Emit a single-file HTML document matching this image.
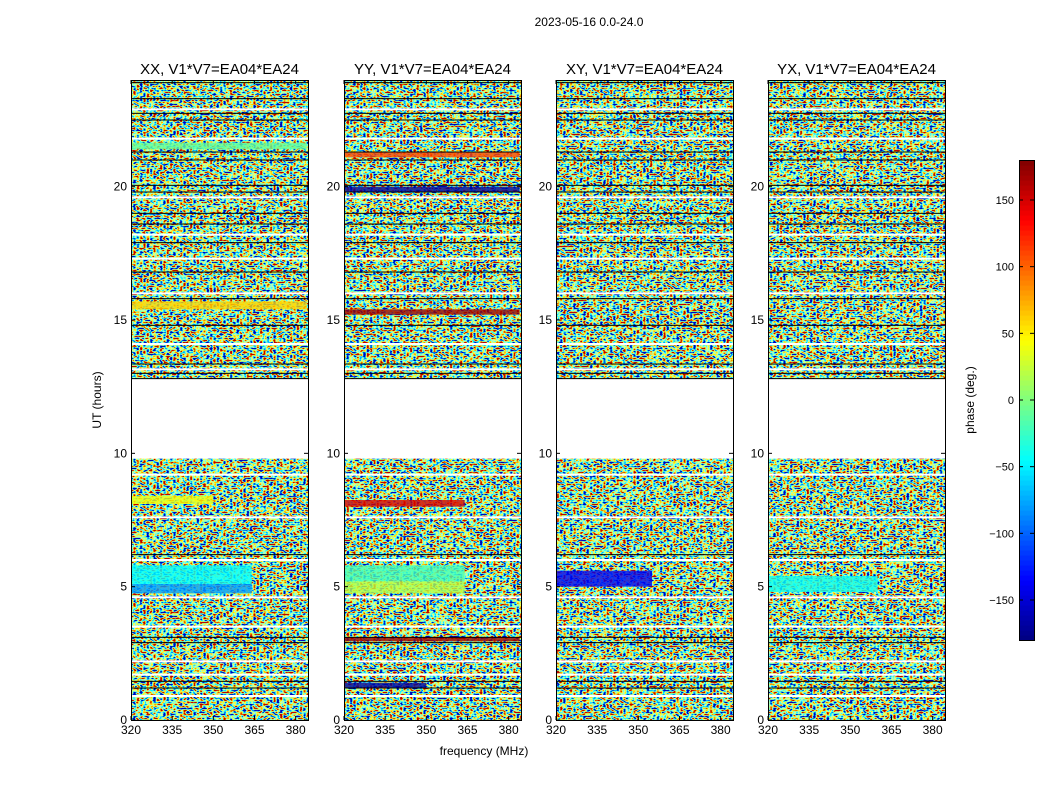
<!DOCTYPE html>
<html><head><meta charset="utf-8"><style>
body{margin:0;background:#fff;font-family:"Liberation Sans",sans-serif}
svg text{font-family:"Liberation Sans",sans-serif}
</style></head><body>
<svg id="c" width="1050" height="800" xmlns="http://www.w3.org/2000/svg">
<defs>
<filter id="noise" x="0" y="0" width="100%" height="100%" filterUnits="objectBoundingBox">
<feTurbulence type="fractalNoise" baseFrequency="0.3 0.5" numOctaves="1" seed="3"/>
<feColorMatrix type="matrix" values="3 0 0 0 -1  3 0 0 0 -1  3 0 0 0 -1  0 0 0 0 1"/>
<feComponentTransfer>
<feFuncR type="table" tableValues="0 0 0 0.5 1 1 0.5"/>
<feFuncG type="table" tableValues="0 0.3 1 1 1 0.3 0"/>
<feFuncB type="table" tableValues="0.5 1 1 0.5 0 0 0"/>
<feFuncA type="linear" slope="0" intercept="1"/>
</feComponentTransfer>
</filter>
</defs>
<text x="589" y="26" font-size="12" text-anchor="middle">2023-05-16 0.0-24.0</text>
<g id="panels"></g>
<text x="484" y="755" font-size="12" text-anchor="middle">frequency (MHz)</text>
<text transform="translate(101,400) rotate(-90)" font-size="12" text-anchor="middle">UT (hours)</text>
<g id="cbar"></g>
<text transform="translate(974,400) rotate(-90)" font-size="12" text-anchor="middle">phase (deg.)</text>
</svg>
<script>
const panelTitles=["XX, V1*V7=EA04*EA24","YY, V1*V7=EA04*EA24","XY, V1*V7=EA04*EA24","YX, V1*V7=EA04*EA24"];
const xTicks=[320,335,350,365,380];
const yTicks=[0,5,10,15,20];
const cbTicks=[-150,-100,-50,0,50,100,150];
const gap=[9.8,12.8];
const blackLines=[1.2,1.45,2.9,3.1,6.2,13.0,13.35,14.8,15.8,16.8,17.9,18.6,19.0,19.8,20.05,21.0,21.3,22.5,22.75,23.3,23.9];
const whiteLines=[0.9,1.7,2.2,3.5,4.6,6.0,7.6,9.2,13.15,14.1,16.0,17.3,18.2,19.6,21.8,22.9];
// bands: [t0,t1,f0,f1,phase]
const bandsXX=[[4.75,5.1,320,364,-80],[5.1,5.8,320,364,-45],[8.1,8.4,320,350,40],[21.4,21.65,320,384,-10],[15.4,15.7,320,384,60]];
const bandsYY=[[4.75,5.2,320,364,20],[5.2,5.8,320,364,-20],[8.0,8.25,320,364,150],[2.95,3.1,320,384,170],[19.8,20.0,320,384,-170],[15.2,15.4,320,384,170],[21.1,21.3,320,384,110],[1.2,1.4,320,350,-170]];
const bandsXY=[[5.0,5.6,320,355,-140]];
const bandsYX=[[4.8,5.4,320,360,-40]];
const panelBands=[bandsXX,bandsYY,bandsXY,bandsYX];
const lefts=[131,344,556,768], PW=177, T=80, B=720, F0=320, F1=384.5;
const NS="http://www.w3.org/2000/svg";
function jet(p){const v=(p+180)/360;const r=Math.max(0,Math.min(1,1.5-Math.abs(4*v-3))),g=Math.max(0,Math.min(1,1.5-Math.abs(4*v-2))),b=Math.max(0,Math.min(1,1.5-Math.abs(4*v-1)));return `rgb(${r*255|0},${g*255|0},${b*255|0})`;}
function yS(t){return B-(t/24)*(B-T);}
function mk(tag,a,parent){const e=document.createElementNS(NS,tag);for(const k in a)e.setAttribute(k,a[k]);parent.appendChild(e);return e;}
const root=document.getElementById('panels');
panelTitles.forEach((title,i)=>{
 const L=lefts[i];const xS=f=>L+(f-F0)/(F1-F0)*PW;
 const g=mk('g',{},root);
 
 
 const n=mk('rect',{x:L,y:T,width:PW,height:B-T,filter:'url(#noise)'},g);
 
 
 panelBands[i].forEach(b=>{const r=mk('rect',{x:xS(b[2]),y:yS(b[1]),width:xS(b[3])-xS(b[2]),height:yS(b[0])-yS(b[1]),fill:jet(b[4]),opacity:0.8},g);
  
  });
 blackLines.forEach(t=>{const r=mk('rect',{x:L,y:yS(t)-0.5,width:PW,height:1,fill:'#000'},g);
  
  });
 whiteLines.forEach(t=>{const r=mk('rect',{x:L,y:yS(t)-1,width:PW,height:2,fill:'#fff'},g);
  
  });
 const gr=mk('rect',{x:L,y:yS(gap[1]),width:PW,height:yS(gap[0])-yS(gap[1]),fill:'#fff'},g);
 
 
 mk('line',{x1:L,x2:L+PW,y1:yS(gap[1]),y2:yS(gap[1]),stroke:'#000','stroke-width':1},g);
 const fr=mk('rect',{x:L+0.5,y:T+0.5,width:PW,height:B-T,fill:'none',stroke:'#000'},g);
 
 
 const tt=mk('text',{x:L+PW/2,y:T-6,'font-size':15,'text-anchor':'middle'},g);tt.textContent=title;
 
 
 xTicks.forEach(f=>{const x=xS(f);mk('line',{x1:x,x2:x,y1:B,y2:B-4,stroke:'#000'},g);mk('line',{x1:x,x2:x,y1:T,y2:T+4,stroke:'#000'},g);
  const t=mk('text',{x:x,y:B+14,'font-size':12,'text-anchor':'middle'},g);t.textContent=f;
  
  });
 yTicks.forEach(v=>{const y=yS(v);mk('line',{x1:L,x2:L+4,y1:y,y2:y,stroke:'#000'},g);mk('line',{x1:L+PW-4,x2:L+PW,y1:y,y2:y,stroke:'#000'},g);
  const t=mk('text',{x:L-4,y:y+4,'font-size':12,'text-anchor':'end'},g);t.textContent=v;
  
  });
});
const cb=document.getElementById('cbar');const CX=1019,CW=15,CT=160,CB=640;
const cy=p=>CB-(p+180)/360*(CB-CT);
for(let k=0;k<96;k++){const p0=-180+k*3.75;mk('rect',{x:CX,y:cy(p0+3.75),width:CW,height:(CB-CT)/96+0.6,fill:jet(p0+1.875)},cb);}
mk('rect',{x:CX+0.5,y:CT+0.5,width:CW,height:CB-CT,fill:'none',stroke:'#000'},cb);
cbTicks.forEach(v=>{const y=cy(v);mk('line',{x1:CX,x2:CX+4,y1:y,y2:y,stroke:'#000'},cb);mk('line',{x1:CX+CW-4,x2:CX+CW,y1:y,y2:y,stroke:'#000'},cb);
 const t=mk('text',{x:CX-5,y:y+4,'font-size':11,'text-anchor':'end'},cb);t.textContent=v<0?'\u2212'+(-v):v;
 
 });
</script>
</body></html>
